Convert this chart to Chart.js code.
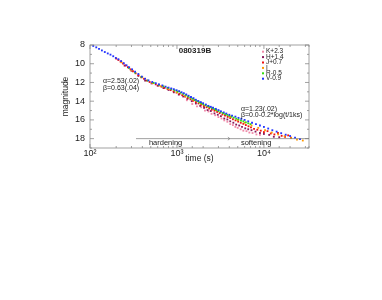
<!DOCTYPE html>
<html>
<head>
<meta charset="utf-8">
<script src="https://cdn.jsdelivr.net/npm/chart.js@4/dist/chart.umd.min.js"></script>
<style>
  html, body { margin: 0; padding: 0; background: #fff; }
  #wrap { width: 382px; height: 300px; }
</style>
</head>
<body>
<div id="wrap"><canvas id="lc"></canvas></div>
<script>
// light curve of GRB 080319B, [time (s), magnitude] per band
const kBand = [[1300,13.9],[1500,14.3],[1700,14.55],[1900,14.65],[2100,15.0],[2300,15.1],[2500,15.35],[2750,15.5],[3000,15.7],[3250,15.85],[3500,16.05],[3800,16.2],[4100,16.45],[4400,16.55],[4700,16.75],[5000,16.85],[5400,17.0],[5800,17.15],[6300,17.2],[6800,17.35],[7400,17.4],[8200,17.55],[9000,17.6]];
const hBand = [[250,10.2],[300,10.75],[360,11.3],[430,11.8],[510,12.1],[600,12.35],[700,12.6],[800,12.8],[920,13.05],[1050,13.3],[1180,13.5],[1320,13.75],[1480,14.0],[1650,14.25],[1850,14.5],[2050,14.7],[2250,14.95],[2450,15.05],[2700,15.3],[2950,15.45],[3200,15.6],[3500,15.85],[3800,15.95],[4100,16.15],[4450,16.3],[4800,16.5],[5200,16.6],[5600,16.75],[6100,16.9],[6600,17.0],[7200,17.1],[8000,17.25],[9000,17.4],[10000,17.5],[11500,17.6],[13000,17.8],[15000,17.85]];
const jBand = [[200,9.45],[212,9.6],[225,9.78],[240,9.98],[256,10.18],[273,10.38],[292,10.6],[312,10.8],[335,11.02],[360,11.22],[388,11.45],[418,11.62],[450,11.8],[485,11.95],[525,12.08],[570,12.2],[615,12.32],[665,12.45],[720,12.58],[780,12.7],[845,12.82],[915,12.95],[990,13.08],[1070,13.22],[1150,13.36],[1240,13.5],[1330,13.65],[1430,13.8],[1540,13.95],[1650,14.1],[1770,14.24],[1900,14.38],[2040,14.52],[2190,14.65],[2350,14.78],[2520,14.9],[2700,15.02],[2900,15.15],[3100,15.28],[3330,15.42],[3570,15.55],[3830,15.68],[4100,15.8],[4400,15.93],[4720,16.05],[5060,16.18],[5420,16.3],[5800,16.42],[6200,16.55],[6650,16.68],[7100,16.8],[7700,16.95],[8400,17.05],[9200,17.15],[10000,17.3],[11000,17.2],[12000,17.45],[13200,17.55],[14500,17.4],[16000,17.7],[17500,17.8],[19000,17.65],[20500,17.9]];
const iBand = [[230,9.85],[300,10.7],[400,11.45],[520,12.05],[650,12.4],[800,12.7],[1000,13.05],[1250,13.45],[1550,13.85],[1900,14.25],[2300,14.6],[2800,14.95],[3400,15.3],[4100,15.65],[5000,16.0],[6000,16.3],[7200,16.6],[8600,16.85],[10300,17.1],[12300,17.35],[14600,17.55],[17300,17.75],[20500,17.95],[24000,18.1],[28000,18.2]];
const rBand = [[280,10.45],[330,10.95],[390,11.4],[460,11.8],[540,12.05],[620,12.25],[700,12.42],[780,12.58],[860,12.72],[940,12.85],[1020,12.98],[1100,13.1],[1180,13.22],[1260,13.36],[1340,13.5],[1420,13.62],[1500,13.74],[1600,13.88],[1700,14.0],[1800,14.12],[1900,14.22],[2000,14.32],[2120,14.43],[2250,14.54],[2380,14.64],[2520,14.74],[2670,14.84],[2830,14.94],[3000,15.05],[3180,15.16],[3370,15.27],[3570,15.38],[3780,15.47],[4000,15.57],[4250,15.66],[4500,15.76],[4800,15.86],[5100,15.96],[5450,16.06],[5800,16.15],[6200,16.26],[6600,16.36],[7000,16.45]];
const vBand = [[109,8.1],[118,8.25],[127,8.42],[137,8.58],[148,8.75],[160,8.9],[172,9.03],[185,9.2],[198,9.38],[212,9.52],[228,9.72],[245,9.95],[263,10.17],[282,10.38],[305,10.6],[330,10.85],[360,11.1],[395,11.38],[430,11.6],[470,11.78],[520,11.95],[570,12.08],[620,12.2],[680,12.32],[740,12.45],[800,12.55],[860,12.64],[920,12.72],[990,12.83],[1060,12.93],[1130,13.05],[1200,13.15],[1280,13.28],[1360,13.42],[1450,13.55],[1550,13.68],[1650,13.85],[1760,13.98],[1880,14.1],[2000,14.22],[2150,14.36],[2300,14.5],[2450,14.6],[2600,14.7],[2800,14.82],[3000,14.95],[3200,15.08],[3450,15.2],[3700,15.32],[4000,15.45],[4300,15.55],[4700,15.65],[5100,15.78],[5500,15.88],[6000,16.0],[6600,16.15],[7300,16.3],[8100,16.45],[9000,16.6],[10000,16.75],[11200,16.92],[12500,17.1],[14000,17.25],[15800,17.42],[17800,17.58],[20000,17.72],[22800,17.9],[26000,18.05]];

const bandNames = ['K+2.3', 'H+1.4', 'J+0.7', 'I', 'R-0.5', 'V-0.9'];
const bandColors = ['#f08aa8', '#8a1a5a', '#ee1111', '#ff9900', '#33dd11', '#2233ff'];
const bandData = [kBand, hBand, jBand, iBand, rBand, vBand];

const xTicks = [100, 1000, 10000];
const xTickLabels = ['10\u00b2', '10\u00b3', '10\u2074'];
const magTicks = [8, 10, 12, 14, 16, 18];

const FONT = '"Liberation Sans", Arial, sans-serif';
const INK = '#222';

// draw order: V on top, then R, I, J, H, K
const order = [5, 4, 3, 2, 1, 0];
const datasets = order.map(i => ({
  label: bandNames[i],
  data: bandData[i].map(p => ({ x: p[0], y: p[1] })),
  backgroundColor: bandColors[i],
  borderColor: bandColors[i],
  borderWidth: 0,
  pointStyle: 'rect',
  pointRadius: 1.3
}));

// frame with inward ticks on all four sides
const frameTicks = {
  id: 'frameTicks',
  afterDraw(chart) {
    const { ctx, chartArea: a } = chart;
    const xs = chart.scales.x, ys = chart.scales.y;
    ctx.save();
    ctx.strokeStyle = '#8a8a8a';
    ctx.lineWidth = 0.8;
    ctx.strokeRect(a.left, a.top, a.right - a.left, a.bottom - a.top);
    ctx.beginPath();
    xs.ticks.forEach(t => {
      if (t.value < xs.min || t.value > xs.max) return;
      const px = xs.getPixelForValue(t.value);
      const len = xTicks.includes(t.value) ? 4 : 2;
      ctx.moveTo(px, a.bottom); ctx.lineTo(px, a.bottom - len);
      ctx.moveTo(px, a.top); ctx.lineTo(px, a.top + len);
    });
    ys.ticks.forEach(t => {
      const py = ys.getPixelForValue(t.value);
      const len = magTicks.includes(t.value) ? 4 : 2;
      ctx.moveTo(a.left, py); ctx.lineTo(a.left + len, py);
      ctx.moveTo(a.right, py); ctx.lineTo(a.right - len, py);
    });
    ctx.stroke();
    ctx.restore();
  }
};

// title, fit results, hardening/softening bar and legend
const notes = {
  id: 'notes',
  afterDraw(chart) {
    const { ctx, chartArea: a } = chart;
    const xs = chart.scales.x, ys = chart.scales.y;
    const X = v => xs.getPixelForValue(v), Y = v => ys.getPixelForValue(v);
    ctx.save();
    ctx.fillStyle = INK;
    ctx.textBaseline = 'middle';

    ctx.font = 'bold 8px ' + FONT;
    ctx.textAlign = 'center';
    ctx.fillText('080319B', X(1610), Y(8.62));

    ctx.font = '7px ' + FONT;
    ctx.textAlign = 'left';
    ctx.fillText('\u03b1=2.53(.02)', X(141), Y(11.84));
    ctx.fillText('\u03b2=0.63(.04)', X(141), Y(12.56));
    ctx.fillText('\u03b1=1.23(.02)', X(5440), Y(14.8));
    ctx.fillText('\u03b2=0.0-0.2*log(t/1ks)', X(5440), Y(15.44));

    // hardening -> softening bar at the bottom
    ctx.strokeStyle = '#777';
    ctx.lineWidth = 0.7;
    ctx.beginPath();
    ctx.moveTo(X(338), Y(18));
    ctx.lineTo(a.right, Y(18));
    const ax = X(4060), ay = Y(18);
    ctx.moveTo(ax - 2, ay - 1.5); ctx.lineTo(ax, ay); ctx.lineTo(ax - 2, ay + 1.5);
    ctx.stroke();
    ctx.font = '7.5px ' + FONT;
    ctx.fillText('hardening', X(476), Y(18.42));
    ctx.fillText('softening', X(5440), Y(18.42));

    // legend
    ctx.font = '6.5px ' + FONT;
    bandNames.forEach((name, i) => {
      const y = a.top + 6.7 + i * 5.4;
      ctx.fillStyle = bandColors[i];
      ctx.fillRect(a.right - 47, y - 1, 2, 2);
      ctx.fillStyle = INK;
      ctx.fillText(name, a.right - 43, y);
    });
    ctx.restore();
  }
};

new Chart(document.getElementById('lc'), {
  type: 'scatter',
  data: { datasets },
  options: {
    responsive: true,
    maintainAspectRatio: false,
    animation: false,
    layout: { padding: { left: 61, right: 73, top: 45, bottom: 136 } },
    plugins: {
      legend: { display: false },
      tooltip: { enabled: false }
    },
    scales: {
      x: {
        type: 'logarithmic',
        min: 100,
        max: 33000,
        grid: { display: false, drawTicks: false },
        border: { display: false },
        afterFit: s => { s.height = 16; },
        ticks: {
          autoSkip: false,
          maxRotation: 0,
          padding: 0,
          color: INK,
          font: { family: FONT, size: 9 },
          callback: v => {
            const k = xTicks.indexOf(v);
            return k >= 0 ? xTickLabels[k] : '';
          }
        },
        title: {
          display: true,
          text: 'time (s)',
          color: INK,
          padding: 0,
          font: { family: FONT, size: 8.5 }
        }
      },
      y: {
        reverse: true,
        min: 8,
        max: 19,
        grid: { display: false, drawTicks: false },
        border: { display: false },
        afterFit: s => { s.width = 29; },
        ticks: {
          stepSize: 1,
          autoSkip: false,
          padding: 5,
          color: INK,
          font: { family: FONT, size: 9 },
          callback: v => magTicks.includes(v) ? String(v) : ''
        },
        title: {
          display: true,
          text: 'magnitude',
          color: INK,
          padding: 0,
          font: { family: FONT, size: 8.5 }
        }
      }
    }
  },
  plugins: [frameTicks, notes]
});
</script>
</body>
</html>
